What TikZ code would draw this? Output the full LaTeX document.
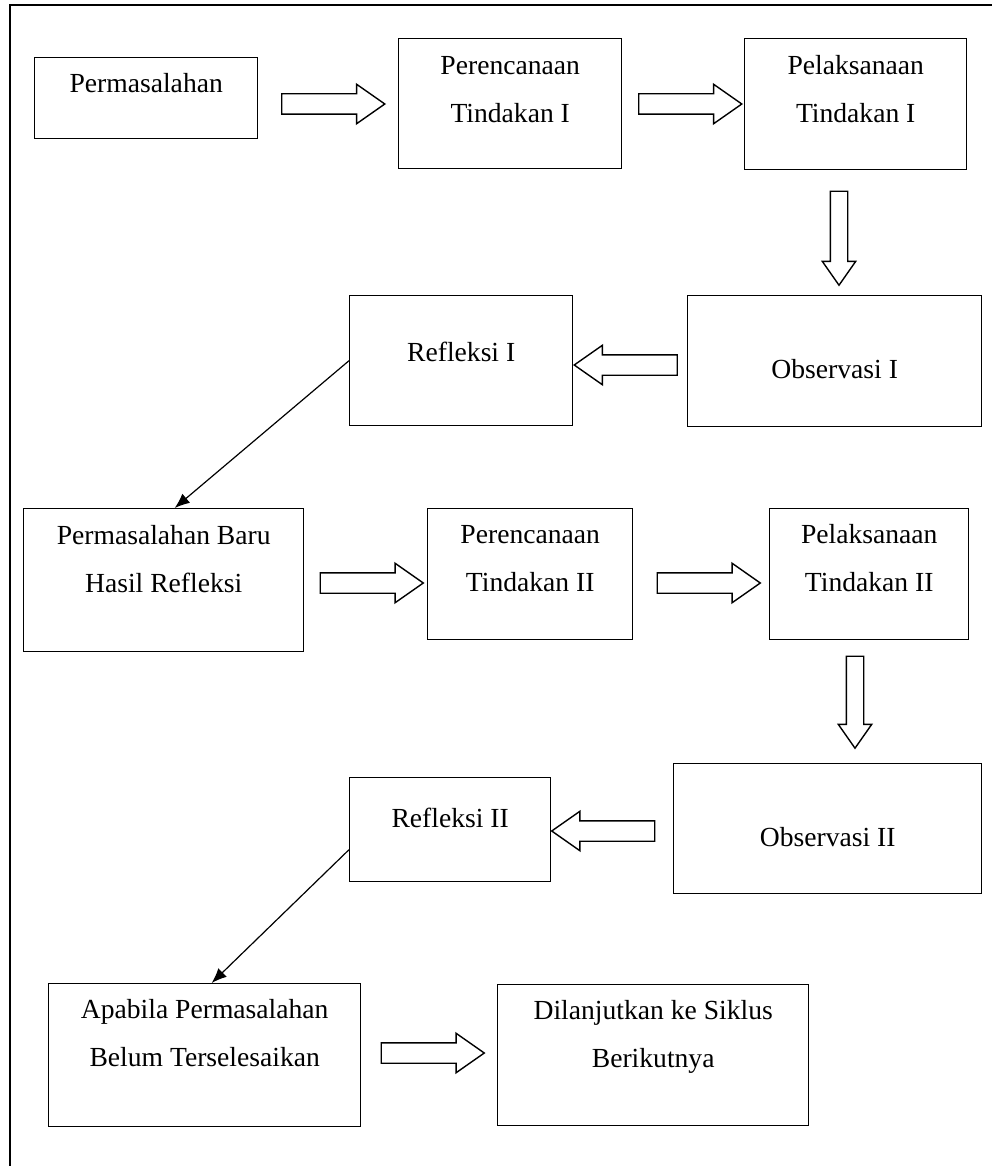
\documentclass[tikz,border=0pt]{standalone}
\usepackage{fontspec}
\setmainfont{Liberation Serif}
\usetikzlibrary{shapes.arrows,arrows.meta}

\tikzset{
	stepbox/.style={rectangle, draw=black, line width=0.7pt, inner sep=0pt, align=center, anchor=north west, font=\fontsize{13.8}{24}\selectfont},
	blockarrow/.style={single arrow, draw=black, line width=0.7pt, inner xsep=0pt, inner ysep=4.75pt, text height=0pt, text depth=0pt, minimum height=51.5pt, single arrow head extend=4.75pt, single arrow tip angle=70, anchor=center},
	downarrow/.style={blockarrow, rotate=-90, minimum height=47pt, inner ysep=4pt, single arrow head extend=4pt},
	leftarrow/.style={blockarrow, rotate=180},
	thinarrow/.style={-{Latex[length=7.5pt,width=6pt]}, line width=0.6pt}
}

\begin{document}
\begin{tikzpicture}[x=0.5pt, y=-0.5pt]

		\useasboundingbox (0,0) rectangle (992,1166);
		\coordinate (frame-bl) at (10,1166);
		\coordinate (frame-tr) at (992,5);
		\draw[line width=0.7pt] (frame-bl) |- (frame-tr);

		% siklus I
		\node(perm-1)[stepbox, minimum width=111.5pt, text height=17.5pt, text depth=23pt] at (34,57) {Permasalahan};
		\node(plan-1)[stepbox, minimum width=111.5pt, text height=42pt, text depth=23pt] at (398,38) {Perencanaan\\Tindakan I};
		\node(act-1)[stepbox, minimum width=111pt, text height=42pt, text depth=23.5pt] at (744,38) {Pelaksanaan\\Tindakan I};
		\node(obs-1)[stepbox, minimum width=147pt, text height=41.5pt, text depth=24pt] at (687,295) {Observasi I};
		\node(refl-1)[stepbox, minimum width=111.5pt, text height=33pt, text depth=32pt] at (349,295) {Refleksi I};

		% siklus II
		\node(perm-2)[stepbox, minimum width=140pt, text height=42pt, text depth=29.5pt] at (23,508) {Permasalahan Baru\\Hasil Refleksi};
		\node(plan-2)[stepbox, minimum width=102.5pt, text height=41.5pt, text depth=24pt] at (427,508) {Perencanaan\\Tindakan II};
		\node(act-2)[stepbox, minimum width=99.5pt, text height=41.5pt, text depth=24pt] at (769,508) {Pelaksanaan\\Tindakan II};
		\node(obs-2)[stepbox, minimum width=154pt, text height=41.5pt, text depth=23.5pt] at (673,763) {Observasi II};
		\node(refl-2)[stepbox, minimum width=100.5pt, text height=25pt, text depth=27pt] at (349,777) {Refleksi II};

		\node(open-2)[stepbox, minimum width=156pt, text height=41.5pt, text depth=30pt] at (48,983) {Apabila Permasalahan\\Belum Terselesaikan};
		\node(next-2)[stepbox, minimum width=155.5pt, text height=41.5pt, text depth=29pt] at (497,984) {Dilanjutkan ke Siklus\\Berikutnya};

		% panah blok
		\node(go-1)[blockarrow] at (326,104) {};
		\node(go-2)[blockarrow] at (683,104) {};
		\node(go-3)[downarrow] at (839,232) {};
		\node(go-4)[leftarrow] at (633,365) {};
		\node(go-5)[blockarrow] at (364.5,583) {};
		\node(go-6)[blockarrow] at (701.5,583) {};
		\node(go-7)[downarrow, minimum height=46pt] at (855,696) {};
		\node(go-8)[leftarrow] at (610.5,831) {};
		\node(go-9)[blockarrow] at (425.5,1053) {};

		\draw[thinarrow] (refl-1.west) -- ([xshift=5.5pt]perm-2.north);
		\draw[thinarrow] ([yshift=-10pt]refl-2.west) -- ([xshift=3.5pt]open-2.north);
	\end{tikzpicture}
\end{document}
